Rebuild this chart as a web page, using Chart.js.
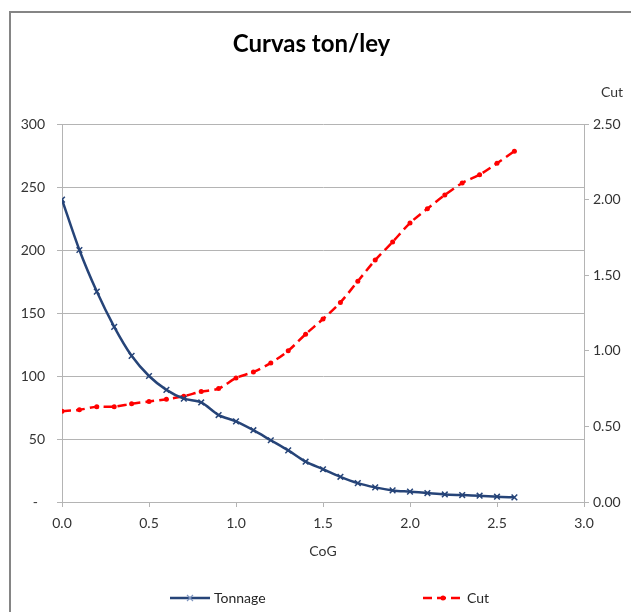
<!DOCTYPE html>
<html>
<head>
<meta charset="utf-8">
<script src="https://cdn.jsdelivr.net/npm/chart.js@4/dist/chart.umd.min.js"></script>
<style>
  body { margin: 0; background: #fff; overflow: hidden; font-family: Lato, sans-serif; }
  #frame { position: absolute; left: 9px; top: 11px; width: 800px; height: 800px;
           border-left: 2px solid #858585; border-top: 2px solid #858585; }
  #wrap { position: absolute; left: 0; top: 0; width: 631px; height: 612px; }
  .leg { position: absolute; top: 590px; height: 16px; font-size: 14px; color: #262626; line-height: 16px; }
  .leg svg { position: absolute; left: 0; top: 3px; }
  .leg span { position: absolute; left: 44px; white-space: nowrap; }
</style>
</head>
<body>
<div id="frame"></div>
<div id="wrap"><canvas id="curvasChart"></canvas></div>
<div class="leg" style="left:170px">
  <svg width="40" height="10"><line x1="0" y1="5" x2="40" y2="5" stroke="#264478" stroke-width="2.5"/><path d="M17 2 L23 8 M23 2 L17 8" stroke="#7f96c0" stroke-width="1.2"/></svg>
  <span>Tonnage</span>
</div>
<div class="leg" style="left:423px">
  <svg width="40" height="10"><line x1="0" y1="5" x2="40" y2="5" stroke="#ff0000" stroke-width="2.5" stroke-dasharray="9 5"/><circle cx="20" cy="5" r="2.5" fill="#ff0000"/></svg>
  <span>Cut</span>
</div>
<script>
// ley de corte (CoG) y curvas
const cog = [0.0, 0.1, 0.2, 0.3, 0.4, 0.5, 0.6, 0.7, 0.8, 0.9, 1.0, 1.1, 1.2, 1.3,
             1.4, 1.5, 1.6, 1.7, 1.8, 1.9, 2.0, 2.1, 2.2, 2.3, 2.4, 2.5, 2.6];
const tonnage = [240, 200, 167, 139, 116, 100, 89, 82, 79, 69, 64, 57, 49, 41,
                 32, 26, 20, 15, 11.6, 9.2, 8.2, 7.1, 6, 5.5, 5, 4.2, 3.7];
const cut = [0.60, 0.61, 0.63, 0.63, 0.65, 0.665, 0.68, 0.70, 0.73, 0.75, 0.82, 0.86, 0.92, 1.00,
             1.11, 1.21, 1.32, 1.46, 1.60, 1.72, 1.845, 1.94, 2.03, 2.11, 2.165, 2.24, 2.32];

const gridColor = '#b4b4b4';
const textColor = '#333333';

const ctx = document.getElementById('curvasChart').getContext('2d');

new Chart(ctx, {
    type: 'line',
    data: {
        datasets: [{
            label: 'Tonnage',
            data: cog.map((c, i) => ({ x: c, y: tonnage[i] })),
            yAxisID: 'y',
            borderColor: '#264478',
            backgroundColor: '#264478',
            borderWidth: 2.5,
            tension: 0.3,
            pointStyle: 'crossRot',
            pointRadius: 4,
            pointBorderWidth: 1.5,
            pointBorderColor: '#264478'
        }, {
            label: 'Cut',
            data: cog.map((c, i) => ({ x: c, y: cut[i] })),
            yAxisID: 'y1',
            borderColor: '#ff0000',
            backgroundColor: '#ff0000',
            borderWidth: 2.5,
            borderDash: [9, 5],
            tension: 0.3,
            pointStyle: 'circle',
            pointRadius: 2.5,
            pointBorderWidth: 0
        }]
    },
    options: {
        responsive: true,
        maintainAspectRatio: false,
        animation: false,
        layout: { padding: { left: 0, right: 8, top: 0, bottom: 50 } },
        plugins: {
            legend: { display: false },
            tooltip: { enabled: false },
            title: {
                display: true,
                text: 'Curvas ton/ley',
                color: '#000',
                font: { family: 'Lato', size: 24, weight: 'bold', lineHeight: 1.2 },
                padding: { top: 30, bottom: 0 }
            },
            subtitle: {
                display: true,
                text: 'Cut',
                align: 'end',
                color: textColor,
                font: { family: 'Lato', size: 14, lineHeight: 1.2 },
                padding: { top: 25, bottom: 23.4 }
            }
        },
        scales: {
            x: {
                type: 'linear',
                min: 0,
                max: 3,
                afterFit: function(scale) { scale.height = 60; },
                ticks: {
                    stepSize: 0.5,
                    padding: 8,
                    color: textColor,
                    font: { family: 'Lato', size: 14 },
                    callback: function(value) { return value.toFixed(1); }
                },
                grid: { drawOnChartArea: false, color: gridColor, tickLength: 5 },
                border: { color: gridColor },
                title: {
                    display: true,
                    text: 'CoG',
                    color: textColor,
                    font: { family: 'Lato', size: 14, lineHeight: 1.2 },
                    padding: { top: 0, bottom: 2 }
                }
            },
            y: {
                position: 'left',
                min: 0,
                max: 300,
                afterFit: function(scale) { scale.width = 62; },
                ticks: {
                    stepSize: 50,
                    padding: 12,
                    color: textColor,
                    font: { family: 'Lato', size: 14 },
                    callback: function(value) { return value === 0 ? '-  ' : value; }
                },
                grid: { color: gridColor, tickLength: 5 },
                border: { color: gridColor }
            },
            y1: {
                position: 'right',
                min: 0,
                max: 2.5,
                afterFit: function(scale) { scale.width = 39; },
                ticks: {
                    stepSize: 0.5,
                    padding: 4,
                    color: textColor,
                    font: { family: 'Lato', size: 14 },
                    callback: function(value) { return value.toFixed(2); }
                },
                grid: { drawOnChartArea: false, color: gridColor, tickLength: 5 },
                border: { color: gridColor }
            }
        }
    }
});
</script>
</body>
</html>
